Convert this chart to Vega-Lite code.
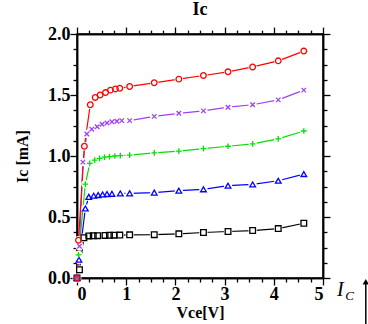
{
  "$schema": "https://vega.github.io/schema/vega-lite/v6.json",
  "autosize": {"type": "none"},
  "padding": {"left": 77, "top": 34, "right": 45, "bottom": 46},
  "width": 246,
  "height": 244,
  "background": "white",
  "title": {"text": "Ic", "font": "Liberation Serif", "fontSize": 18, "fontWeight": "bold", "color": "black", "offset": 6},
  "config": {
    "view": {"stroke": "black", "strokeWidth": 1.5},
    "axis": {
      "labelFont": "Liberation Serif", "labelFontWeight": "bold", "labelFontSize": 18, "labelColor": "black",
      "titleFont": "Liberation Serif", "titleFontWeight": "bold", "titleFontSize": 16, "titleColor": "black",
      "grid": false
    }
  },
  "datasets": {
    "d": [
      {"s": "k", "x": 0, "y": 0}, {"s": "k", "x": 0.05, "y": 0.068}, {"s": "k", "x": 0.14, "y": 0.33}, {"s": "k", "x": 0.24, "y": 0.345}, {"s": "k", "x": 0.33, "y": 0.346}, {"s": "k", "x": 0.42, "y": 0.347}, {"s": "k", "x": 0.57, "y": 0.349}, {"s": "k", "x": 0.66, "y": 0.35}, {"s": "k", "x": 0.75, "y": 0.351}, {"s": "k", "x": 0.87, "y": 0.352}, {"s": "k", "x": 1.07, "y": 0.354}, {"s": "k", "x": 1.57, "y": 0.355}, {"s": "k", "x": 2.07, "y": 0.362}, {"s": "k", "x": 2.57, "y": 0.373}, {"s": "k", "x": 3.07, "y": 0.381}, {"s": "k", "x": 3.57, "y": 0.389}, {"s": "k", "x": 4.09, "y": 0.405}, {"s": "k", "x": 4.61, "y": 0.449},
      {"s": "b", "x": 0, "y": 0}, {"s": "b", "x": 0.04, "y": 0.15}, {"s": "b", "x": 0.17, "y": 0.57}, {"s": "b", "x": 0.24, "y": 0.665}, {"s": "b", "x": 0.34, "y": 0.675}, {"s": "b", "x": 0.43, "y": 0.68}, {"s": "b", "x": 0.52, "y": 0.685}, {"s": "b", "x": 0.61, "y": 0.688}, {"s": "b", "x": 0.71, "y": 0.69}, {"s": "b", "x": 0.88, "y": 0.693}, {"s": "b", "x": 1.07, "y": 0.694}, {"s": "b", "x": 1.57, "y": 0.7}, {"s": "b", "x": 2.07, "y": 0.716}, {"s": "b", "x": 2.57, "y": 0.727}, {"s": "b", "x": 3.07, "y": 0.757}, {"s": "b", "x": 3.57, "y": 0.767}, {"s": "b", "x": 4.09, "y": 0.797}, {"s": "b", "x": 4.61, "y": 0.852},
      {"s": "g", "x": 0, "y": 0}, {"s": "g", "x": 0.03, "y": 0.19}, {"s": "g", "x": 0.17, "y": 0.77}, {"s": "g", "x": 0.26, "y": 0.94}, {"s": "g", "x": 0.36, "y": 0.966}, {"s": "g", "x": 0.46, "y": 0.98}, {"s": "g", "x": 0.56, "y": 0.99}, {"s": "g", "x": 0.66, "y": 0.995}, {"s": "g", "x": 0.77, "y": 1.0}, {"s": "g", "x": 0.88, "y": 1.003}, {"s": "g", "x": 1.07, "y": 1.007}, {"s": "g", "x": 1.57, "y": 1.026}, {"s": "g", "x": 2.07, "y": 1.04}, {"s": "g", "x": 2.57, "y": 1.06}, {"s": "g", "x": 3.07, "y": 1.08}, {"s": "g", "x": 3.57, "y": 1.1}, {"s": "g", "x": 4.09, "y": 1.14}, {"s": "g", "x": 4.61, "y": 1.205},
      {"s": "p", "x": 0, "y": 0}, {"s": "p", "x": 0.05, "y": 0.26}, {"s": "p", "x": 0.12, "y": 0.95}, {"s": "p", "x": 0.2, "y": 1.18}, {"s": "p", "x": 0.3, "y": 1.22}, {"s": "p", "x": 0.41, "y": 1.24}, {"s": "p", "x": 0.51, "y": 1.26}, {"s": "p", "x": 0.61, "y": 1.27}, {"s": "p", "x": 0.71, "y": 1.28}, {"s": "p", "x": 0.81, "y": 1.285}, {"s": "p", "x": 0.91, "y": 1.29}, {"s": "p", "x": 1.07, "y": 1.29}, {"s": "p", "x": 1.57, "y": 1.325}, {"s": "p", "x": 2.07, "y": 1.35}, {"s": "p", "x": 2.57, "y": 1.37}, {"s": "p", "x": 3.07, "y": 1.4}, {"s": "p", "x": 3.57, "y": 1.42}, {"s": "p", "x": 4.09, "y": 1.46}, {"s": "p", "x": 4.61, "y": 1.54},
      {"s": "r", "x": 0, "y": 0}, {"s": "r", "x": 0.03, "y": 0.31}, {"s": "r", "x": 0.15, "y": 1.08}, {"s": "r", "x": 0.27, "y": 1.42}, {"s": "r", "x": 0.37, "y": 1.48}, {"s": "r", "x": 0.47, "y": 1.5}, {"s": "r", "x": 0.58, "y": 1.52}, {"s": "r", "x": 0.68, "y": 1.54}, {"s": "r", "x": 0.78, "y": 1.55}, {"s": "r", "x": 0.87, "y": 1.555}, {"s": "r", "x": 1.07, "y": 1.57}, {"s": "r", "x": 1.57, "y": 1.6}, {"s": "r", "x": 2.07, "y": 1.63}, {"s": "r", "x": 2.57, "y": 1.66}, {"s": "r", "x": 3.07, "y": 1.69}, {"s": "r", "x": 3.57, "y": 1.73}, {"s": "r", "x": 4.09, "y": 1.78}, {"s": "r", "x": 4.61, "y": 1.86}
    ],
    "ann": [
      {"t": "I", "x": 5.35, "y": -0.1, "x2": 5.87, "ytop": -0.03, "ybot": -0.4}
    ]
  },
  "resolve": {"axis": {"x": "independent", "y": "independent"}},
  "layer": [
    {
      "data": {"name": "d"},
      "mark": {"type": "line", "strokeWidth": 1.2, "clip": true},
      "encoding": {
        "x": {"field": "x", "type": "quantitative", "scale": {"domain": [0, 5], "nice": false, "zero": false},
              "axis": {"orient": "bottom", "values": [0, 1, 2, 3, 4, 5], "format": "d", "tickSize": 7, "tickColor": "black", "tickWidth": 1.3, "domainColor": "black", "domainWidth": 1.5, "labelPadding": 0, "title": "Vce[V]", "titleY": 34, "titleBaseline": "middle"}},
        "y": {"field": "y", "type": "quantitative", "scale": {"domain": [0, 2], "nice": false, "zero": false},
              "axis": {"orient": "left", "values": [0, 0.5, 1, 1.5, 2], "format": ".1f", "tickSize": 7, "tickColor": "black", "tickWidth": 1.3, "domainColor": "black", "domainWidth": 1.5, "labelPadding": 0, "title": "Ic [mA]", "titleX": -55, "titleY": 122, "titleBaseline": "middle", "titleAlign": "center"}},
        "color": {"field": "s", "type": "nominal", "scale": {"domain": ["k", "b", "g", "p", "r"], "range": ["#000000", "#0000ff", "#00e000", "#a040f0", "#ff0000"]}, "legend": null}
      }
    },
    {
      "data": {"name": "d"},
      "mark": {"type": "point", "filled": true, "color": "white", "size": 70, "shape": "circle", "opacity": 1},
      "encoding": {
        "x": {"field": "x", "type": "quantitative", "axis": {"orient": "bottom", "values": [0.25, 0.5, 0.75, 1.25, 1.5, 1.75, 2.25, 2.5, 2.75, 3.25, 3.5, 3.75, 4.25, 4.5, 4.75], "tickSize": 4, "tickColor": "black", "tickWidth": 1.3, "domainColor": "black", "domainWidth": 1.5, "labelColor": "white", "labelFontSize": 1, "labelPadding": 0, "title": " ", "titleFontSize": 1, "titlePadding": 0, "titleColor": "white"}},
        "y": {"field": "y", "type": "quantitative", "axis": {"orient": "left", "values": [0.125, 0.25, 0.375, 0.625, 0.75, 0.875, 1.125, 1.25, 1.375, 1.625, 1.75, 1.875], "tickSize": 4, "tickColor": "black", "tickWidth": 1.3, "domainColor": "black", "domainWidth": 1.5, "labelColor": "white", "labelFontSize": 1, "labelPadding": 0, "title": " ", "titleFontSize": 1, "titlePadding": 0, "titleColor": "white"}}
      }
    },
    {
      "data": {"name": "d"},
      "mark": {"type": "point", "filled": false, "size": 32, "strokeWidth": 1.3, "opacity": 1},
      "encoding": {
        "x": {"field": "x", "type": "quantitative", "axis": {"orient": "top", "values": [0, 1, 2, 3, 4, 5], "tickSize": 7, "tickColor": "black", "tickWidth": 1.3, "domainColor": "black", "domainWidth": 1.5, "labelColor": "white", "labelFontSize": 1, "labelPadding": 0, "title": " ", "titleFontSize": 1, "titlePadding": 0, "titleColor": "white"}},
        "y": {"field": "y", "type": "quantitative", "axis": {"orient": "right", "values": [0, 0.5, 1, 1.5, 2], "tickSize": 7, "tickColor": "black", "tickWidth": 1.3, "domainColor": "black", "domainWidth": 1.5, "labelColor": "white", "labelFontSize": 1, "labelPadding": 0, "title": " ", "titleFontSize": 1, "titlePadding": 0, "titleColor": "white"}},
        "stroke": {"field": "s", "type": "nominal", "scale": {"domain": ["k", "b", "g", "p", "r"], "range": ["#000000", "#0000ff", "#00e000", "#a040f0", "#ff0000"]}, "legend": null},
        "shape": {"field": "s", "type": "nominal", "scale": {"domain": ["k", "b", "g", "p", "r"], "range": ["square", "triangle-up", "M-1,0H1M0,-1V1", "M-0.8,-0.8L0.8,0.8M0.8,-0.8L-0.8,0.8", "circle"]}, "legend": null}
      }
    },
    {
      "data": {"name": "ann"},
      "mark": {"type": "text", "font": "Liberation Serif", "fontStyle": "italic", "fontSize": 20, "color": "black", "align": "center", "baseline": "middle"},
      "encoding": {
        "x": {"field": "x", "type": "quantitative", "axis": {"orient": "top", "values": [0.25, 0.5, 0.75, 1.25, 1.5, 1.75, 2.25, 2.5, 2.75, 3.25, 3.5, 3.75, 4.25, 4.5, 4.75], "tickSize": 4, "tickColor": "black", "tickWidth": 1.3, "domainColor": "black", "domainWidth": 1.5, "labelColor": "white", "labelFontSize": 1, "labelPadding": 0, "title": " ", "titleFontSize": 1, "titlePadding": 0, "titleColor": "white"}},
        "y": {"field": "y", "type": "quantitative", "axis": {"orient": "right", "values": [0.125, 0.25, 0.375, 0.625, 0.75, 0.875, 1.125, 1.25, 1.375, 1.625, 1.75, 1.875], "tickSize": 4, "tickColor": "black", "tickWidth": 1.3, "domainColor": "black", "domainWidth": 1.5, "labelColor": "white", "labelFontSize": 1, "labelPadding": 0, "title": " ", "titleFontSize": 1, "titlePadding": 0, "titleColor": "white"}},
        "text": {"field": "t"}
      }
    },
    {
      "data": {"name": "ann"},
      "mark": {"type": "text", "font": "Liberation Serif", "fontStyle": "italic", "fontSize": 13, "color": "black", "align": "left", "baseline": "middle", "dx": 5, "dy": 6},
      "encoding": {
        "x": {"field": "x", "type": "quantitative", "axis": null},
        "y": {"field": "y", "type": "quantitative", "axis": null},
        "text": {"value": "C"}
      }
    },
    {
      "data": {"name": "ann"},
      "mark": {"type": "rule", "color": "black", "strokeWidth": 1.5},
      "encoding": {
        "x": {"field": "x2", "type": "quantitative", "axis": null},
        "y": {"field": "ytop", "type": "quantitative", "axis": null},
        "y2": {"field": "ybot"}
      }
    },
    {
      "data": {"name": "ann"},
      "mark": {"type": "point", "shape": "triangle-up", "filled": true, "color": "black", "size": 40, "opacity": 1},
      "encoding": {
        "x": {"field": "x2", "type": "quantitative", "axis": null},
        "y": {"field": "ytop", "type": "quantitative", "axis": null}
      }
    }
  ]
}
